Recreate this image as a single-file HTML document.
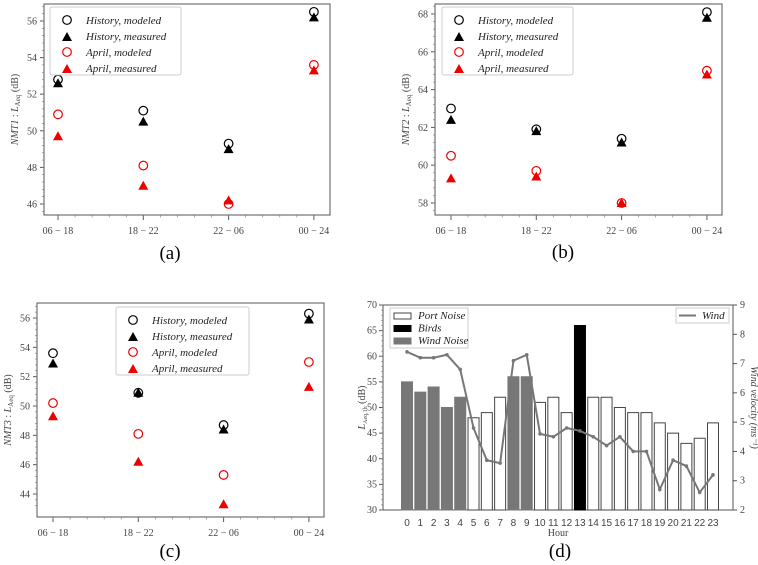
<!DOCTYPE html>
<html><head><meta charset="utf-8"><style>
body{margin:0;background:#fff;}
svg{display:block;font-family:"Liberation Serif",serif;}
.tk{font-size:10px;fill:#444;}
.lg{font-size:11px;font-style:italic;fill:#222;}
.cap{font-size:19px;fill:#000;}
</style></head><body>
<svg id="chart" width="758" height="565" viewBox="0 0 758 565"></svg>
<script>
const cats = ["06 − 18","18 − 22","22 − 06","00 − 24"];
const aHistMod = [52.8,51.1,49.3,56.5];
const aHistMeas = [52.6,50.5,49.0,56.2];
const aAprMod = [50.9,48.1,46.0,53.6];
const aAprMeas = [49.7,47.0,46.2,53.3];
const aTicks = [46,48,50,52,54,56];
const bHistMod = [63.0,61.9,61.4,68.1];
const bHistMeas = [62.4,61.8,61.2,67.8];
const bAprMod = [60.5,59.7,58.0,65.0];
const bAprMeas = [59.3,59.4,58.0,64.8];
const bTicks = [58,60,62,64,66,68];
const cHistMod = [53.6,50.9,48.7,56.3];
const cHistMeas = [52.9,50.9,48.4,55.9];
const cAprMod = [50.2,48.1,45.3,53.0];
const cAprMeas = [49.3,46.2,43.3,51.3];
const cTicks = [44,46,48,50,52,54,56];
const hours = [0,1,2,3,4,5,6,7,8,9,10,11,12,13,14,15,16,17,18,19,20,21,22,23];
const noise = [55,53,54,50,52,48,49,52,56,56,51,52,49,66,52,52,50,49,49,47,45,43,44,47];
const kind = ["w","w","w","w","w","p","p","p","w","w","p","p","p","b","p","p","p","p","p","p","p","p","p","p"];
const wind = [7.4,7.2,7.2,7.3,6.8,4.8,3.7,3.6,7.1,7.3,4.6,4.5,4.8,4.7,4.5,4.2,4.5,4.0,4.0,2.7,3.7,3.5,2.6,3.2];
const dLeftTicks = [30,35,40,45,50,55,60,65,70];
const dRightTicks = [2,3,4,5,6,7,8,9];

const svg = document.getElementById('chart');
const NS = 'http://www.w3.org/2000/svg';
function mk(tag, at, parent, name, txt){
  const e = document.createElementNS(NS, tag);
  for (const k in at) e.setAttribute(k, at[k]);
  
  
  if (txt !== undefined) e.textContent = txt;
  (parent || svg).appendChild(e);
  return e;
}
function tri(g, x, y, col, name){
  mk('polygon', {points:`${x},${y-5} ${x-5},${y+4} ${x+5},${y+4}`, fill:col}, g, name);
}
function circ(g, x, y, col, name){
  mk('circle', {cx:x, cy:y, r:4.3, fill:'none', stroke:col, 'stroke-width':1.2}, g, name);
}
function scatterPanel(p){
  const g = mk('g', {}, svg, p.id + '-panel');
  const ys = v => p.y0 + (v - p.t0) * (p.y1 - p.y0) / (p.t1 - p.t0);
  const step = (p.cx[1] - p.cx[0]);
  const xs = i => p.cx[0] + i * step;
  mk('rect', {x:p.L, y:p.T, width:p.R-p.L, height:p.B-p.T, fill:'none', stroke:'#555', 'stroke-width':1}, g, 'plot-frame');
  for (const t of p.ticks) {
    const y = ys(t);
    mk('line', {x1:p.L-4, x2:p.L, y1:y, y2:y, stroke:'#555'}, g, 'y-tick');
    mk('text', {x:p.L-7, y:y+3.5, 'text-anchor':'end', class:'tk'}, g, 'y-tick-label', String(t));
  }
  for (let v = p.ticks[0]-0.8; v <= p.ticks[p.ticks.length-1]+1; v += 0.4) {
    const y = ys(v); if (y < p.T || y > p.B) continue;
    mk('line', {x1:p.L-2, x2:p.L, y1:y, y2:y, stroke:'#777', 'stroke-width':0.6}, g, 'y-minor-tick');
  }
  for (let i = 0; i < 4; i++) {
    mk('line', {x1:xs(i), x2:xs(i), y1:p.B, y2:p.B+5, stroke:'#555'}, g, 'x-tick');
    mk('text', {x:xs(i), y:p.B+19, 'text-anchor':'middle', class:'tk'}, g, 'x-tick-label', cats[i]);
  }
  for (let f = -0.2; f < 3.2; f += 0.2) {
    const x = p.cx[0] + f * step; if (x < p.L || x > p.R) continue;
    mk('line', {x1:x, x2:x, y1:p.B, y2:p.B+2.5, stroke:'#777', 'stroke-width':0.6}, g, 'x-minor-tick');
  }
  const yl = mk('text', {transform:`translate(${p.L-26},${(p.T+p.B)/2}) rotate(-90)`, 'text-anchor':'middle', class:'tk', 'font-size':'11'}, g, 'y-axis-title');
  yl.innerHTML = `<tspan font-style="italic">${p.label}</tspan> : <tspan font-style="italic">L</tspan><tspan font-size="7" dy="2">Aeq</tspan><tspan dy="-2"> (dB)</tspan>`;
  for (let i = 0; i < 4; i++) {
    circ(g, xs(i), ys(p.hm[i]), '#000', 'history-modeled-point');
    tri(g, xs(i), ys(p.hme[i]), '#000', 'history-measured-point');
    circ(g, xs(i), ys(p.am[i]), '#e00', 'april-modeled-point');
    tri(g, xs(i), ys(p.ame[i]), '#e00', 'april-measured-point');
  }
  const lg = mk('g', {}, g, 'legend');
  mk('rect', {x:p.lx, y:p.ly, width:p.lw, height:68, fill:'#fff', stroke:'#ccc', rx:2}, lg, 'legend-box');
  const ents = [['History, modeled','#000','c'],['History, measured','#000','t'],['April, modeled','#e00','c'],['April, measured','#e00','t']];
  ents.forEach((e, k) => {
    const y = p.ly + 13 + k * 16;
    if (e[2]=='c') circ(lg, p.lx+17, y, e[1], 'legend-marker'); else tri(lg, p.lx+17, y+1, e[1], 'legend-marker');
    mk('text', {x:p.lx+36, y:y+4, class:'lg'}, lg, 'legend-entry', e[0]);
  });
  mk('text', {x:p.capx, y:p.capy, 'text-anchor':'middle', class:'cap'}, g, 'panel-caption', p.cap);
}
scatterPanel({id:'a',L:44,R:330,T:4,B:215,t0:46,t1:56,y0:204,y1:21,cx:[58,143.3],ticks:aTicks,label:'NMT1',hm:aHistMod,hme:aHistMeas,am:aAprMod,ame:aAprMeas,lx:50,ly:7,lw:131,cap:'(a)',capx:170,capy:259});
scatterPanel({id:'b',L:435,R:722,T:4,B:215,t0:58,t1:68,y0:203,y1:14,cx:[451,536.3],ticks:bTicks,label:'NMT2',hm:bHistMod,hme:bHistMeas,am:bAprMod,ame:bAprMeas,lx:442,ly:7,lw:131,cap:'(b)',capx:563,capy:258});
scatterPanel({id:'c',L:37,R:324,T:303,B:517,t0:44,t1:56,y0:494,y1:318,cx:[53,138.3],ticks:cTicks,label:'NMT3',hm:cHistMod,hme:cHistMeas,am:cAprMod,ame:cAprMeas,lx:116,ly:307,lw:133,cap:'(c)',capx:170,capy:557});

// Panel d
(function(){
  const g = mk('g', {}, svg, 'd-panel');
  const L=383,R=733,T=305,B=510;
  const yl = v => B - (v-30)*(B-T)/40;
  const yr = v => B - (v-2)*(B-T)/7;
  const xh = h => 407 + h*(713-407)/23;
  mk('rect', {x:L,y:T,width:R-L,height:B-T,fill:'#fff',stroke:'#555'}, g, 'plot-frame');
  hours.forEach((h,i)=>{
    const fill = kind[i]=='w' ? '#777' : kind[i]=='b' ? '#000' : '#fff';
    mk('rect', {x:xh(h)-5.5, y:yl(noise[i]), width:11, height:B-yl(noise[i]), fill:fill, stroke: kind[i]=='p' ? '#444' : fill, 'stroke-width':1}, g, 'bar-hour-'+h);
    mk('text', {x:xh(h), y:526, 'text-anchor':'middle', class:'tk', 'font-family':'Liberation Sans', 'font-size':'10', fill:'#222'}, g, 'x-tick-label', String(h));
  });
  for (const t of dLeftTicks) {
    mk('line', {x1:L-4,x2:L,y1:yl(t),y2:yl(t),stroke:'#555'}, g, 'y-tick');
    mk('text', {x:L-6,y:yl(t)+3,'text-anchor':'end',class:'tk','font-size':'9'}, g, 'y-tick-label', String(t));
  }
  for (let v=30; v<=70; v+=1) mk('line', {x1:L-2,x2:L,y1:yl(v),y2:yl(v),stroke:'#777','stroke-width':0.6}, g, 'y-minor-tick');
  for (const t of dRightTicks) {
    mk('line', {x1:R,x2:R+4,y1:yr(t),y2:yr(t),stroke:'#555'}, g, 'y2-tick');
    mk('text', {x:R+7,y:yr(t)+3,class:'tk','font-size':'9'}, g, 'y2-tick-label', String(t));
  }
  const pts = hours.map((h,i)=>xh(h)+','+yr(wind[i])).join(' ');
  mk('polyline', {points:pts, fill:'none', stroke:'#777', 'stroke-width':2}, g, 'wind-line');
  hours.forEach((h,i)=>mk('circle',{cx:xh(h),cy:yr(wind[i]),r:1.8,fill:'#777'}, g, 'wind-point'));
  const t1 = mk('text', {transform:`translate(365,${(T+B)/2}) rotate(-90)`,'text-anchor':'middle',class:'tk','font-size':'9'}, g, 'y-axis-title');
  t1.innerHTML = '<tspan font-style="italic">L</tspan><tspan font-size="6" dy="2">Aeq,1h</tspan><tspan dy="-2"> (dB)</tspan>';
  mk('text', {transform:`translate(751,${(T+B)/2}) rotate(90)`,'text-anchor':'middle',class:'tk','font-size':'9','font-style':'italic'}, g, 'y2-axis-title', 'Wind velocity (ms⁻¹)');
  mk('text', {x:558,y:536,'text-anchor':'middle',class:'tk','font-size':'9'}, g, 'x-axis-title', 'Hour');
  const lg = mk('g', {}, g, 'legend');
  mk('rect', {x:390,y:308,width:78,height:40,fill:'#fff',stroke:'#ccc'}, lg, 'legend-box');
  [['Port Noise','#fff','#444'],['Birds','#000','#000'],['Wind Noise','#777','#777']].forEach((e,k)=>{
    const y=313+k*12.5;
    mk('rect',{x:394,y:y,width:17,height:6,fill:e[1],stroke:e[2]}, lg, 'legend-swatch');
    mk('text',{x:418,y:y+6,class:'lg','font-size':'9'}, lg, 'legend-entry', e[0]);
  });
  const lg2 = mk('g', {}, g, 'wind-legend');
  mk('rect', {x:676,y:308,width:53,height:15,fill:'#fff',stroke:'#ccc'}, lg2, 'legend-box');
  mk('line', {x1:679,x2:696,y1:315.5,y2:315.5,stroke:'#777','stroke-width':2}, lg2, 'legend-swatch');
  mk('text', {x:702,y:319,class:'lg','font-size':'9'}, lg2, 'legend-entry', 'Wind');
  mk('text', {x:560,y:557,'text-anchor':'middle',class:'cap'}, g, 'panel-caption', '(d)');
})();
</script>
</body></html>
